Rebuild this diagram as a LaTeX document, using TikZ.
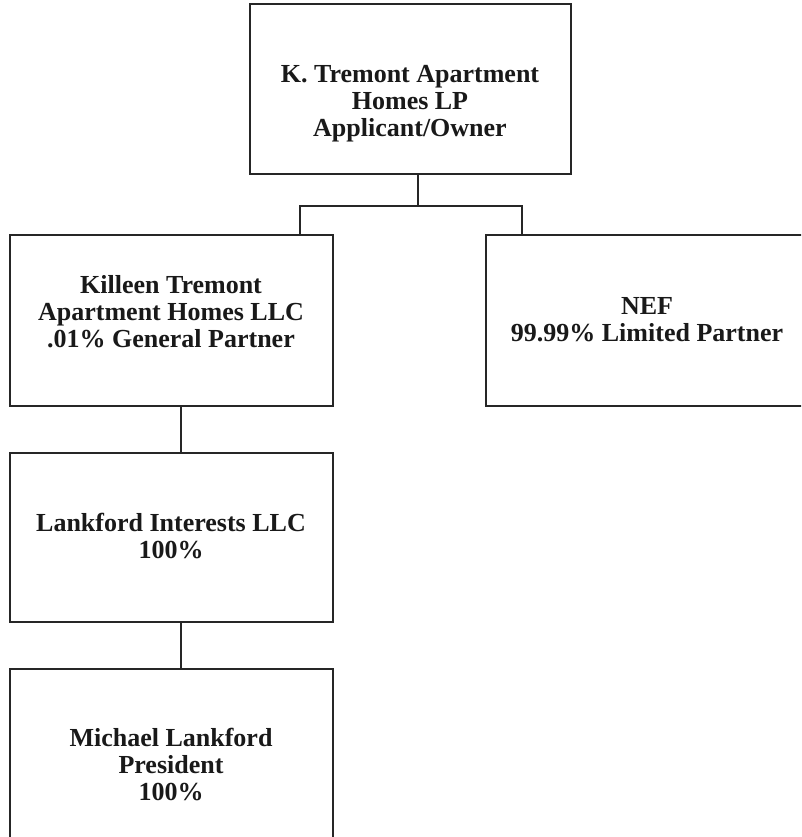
\documentclass[tikz,border=0pt]{standalone}
\usepackage{fontspec}
\setmainfont{Liberation Serif}
\begin{document}
\begin{tikzpicture}[x=1pt,y=-1pt,
  orgbox/.style={draw=black!85, line width=1.6pt, rectangle, inner sep=0pt, fill=none},
  orgtext/.style={anchor=north, align=center, inner sep=0pt,
    font=\fontsize{26}{27}\selectfont\bfseries, text=black!90},
  link/.style={draw=black!85, line width=1.6pt}]
\useasboundingbox (0,0) rectangle (801,837);
\clip (0,0) rectangle (801,837);
\fill[white] (0,0) rectangle (801,837);

% boxes
\node[orgbox, minimum width=321pt, minimum height=170pt] (top) at (410.5,89) {};
\node[orgbox, minimum width=323pt, minimum height=171pt] (kt)  at (171.5,320.5) {};
\node[orgbox, minimum width=330pt, minimum height=171pt] (nef) at (651,320.5) {};
\node[orgbox, minimum width=323pt, minimum height=169pt] (li)  at (171.5,537.5) {};
\node[orgbox, minimum width=323pt, minimum height=171pt] (ml)  at (171.5,754.5) {};

% labels
\node[orgtext] (toptxt) at (410,65) {K. Tremont Apartment\\Homes LP\\Applicant/Owner};
\node[orgtext] (kttxt)  at (171,275) {Killeen Tremont\\Apartment Homes LLC\\.01\% General Partner};
\node[orgtext] (neftxt) at (647,297) {NEF\\99.99\% Limited Partner};
\node[orgtext] (litxt)  at (171,513) {Lankford Interests LLC\\100\%};
\node[orgtext] (mltxt)  at (171,728) {Michael Lankford\\President\\100\%};

% connector junctions
\coordinate (jn) at (418,206);
\coordinate (dropL) at (300,206);
\coordinate (dropR) at (522,206);
\coordinate (spine) at (181,0);

% connectors
\draw[link] (jn |- top.south) -- (jn);
\draw[link] (dropL |- kt.north) -- (dropL) -- (dropR) -- (dropR |- nef.north);
\draw[link] (spine |- kt.south) -- (spine |- li.north);
\draw[link] (spine |- li.south) -- (spine |- ml.north);
\end{tikzpicture}
\end{document}
